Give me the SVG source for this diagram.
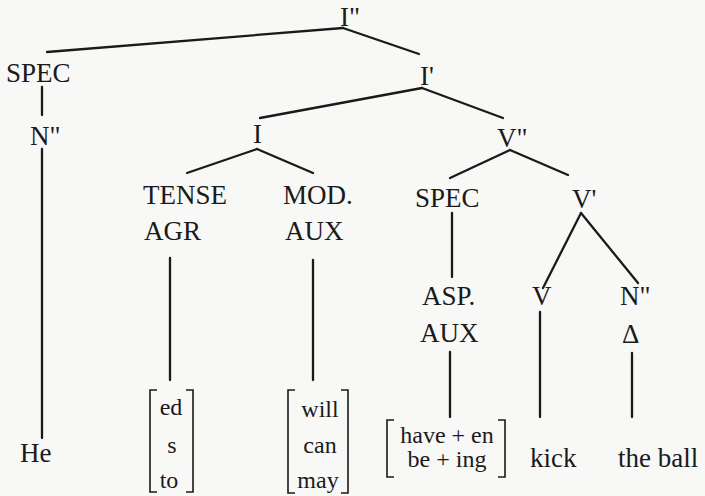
<svg xmlns="http://www.w3.org/2000/svg" width="705" height="496" viewBox="0 0 705 496">
<style>
.t{font-family:"Liberation Serif","Times New Roman",serif;font-size:27px;fill:#1a1a1a}
.s{font-family:"Liberation Serif","Times New Roman",serif;font-size:24px;fill:#1a1a1a;text-anchor:middle}
.e{stroke:#1a1a1a;stroke-width:2.3;fill:none;stroke-linecap:round}
.b{stroke:#1a1a1a;stroke-width:1.6;fill:none}
</style>
<rect width="705" height="496" fill="#f8f8f6"/>
<g id="connectors">
<line class="e" x1="343" y1="28" x2="47" y2="52"/>
<line class="e" x1="343" y1="28" x2="419" y2="54"/>
<line class="e" x1="42" y1="87" x2="42" y2="115"/>
<line class="e" x1="42" y1="149" x2="42" y2="438"/>
<line class="e" x1="422" y1="88" x2="260" y2="118"/>
<line class="e" x1="422" y1="88" x2="503" y2="118"/>
<line class="e" x1="257" y1="149" x2="187" y2="173"/>
<line class="e" x1="257" y1="149" x2="313" y2="173"/>
<line class="e" x1="170" y1="258" x2="170" y2="380"/>
<line class="e" x1="313" y1="260" x2="313" y2="380"/>
<line class="e" x1="510" y1="150" x2="450" y2="178"/>
<line class="e" x1="510" y1="150" x2="568" y2="175"/>
<line class="e" x1="452" y1="213" x2="452" y2="277"/>
<line class="e" x1="450" y1="352" x2="450" y2="417"/>
<line class="e" x1="581" y1="213" x2="543" y2="288"/>
<line class="e" x1="581" y1="213" x2="638" y2="283"/>
<line class="e" x1="540" y1="312" x2="540" y2="417"/>
<line class="e" x1="632" y1="353" x2="632" y2="417"/>
</g>
<g id="n-Ibar2"><text class="t" x="340" y="26">I"</text></g>
<g id="n-SPEC1"><text class="t" x="6" y="82">SPEC</text></g>
<g id="n-N1"><text class="t" x="30" y="145">N"</text></g>
<g id="n-He"><text class="t" x="20" y="462">He</text></g>
<g id="n-Ibar1"><text class="t" x="420" y="85">I'</text></g>
<g id="n-I"><text class="t" x="253" y="143">I</text></g>
<g id="n-TENSE"><text class="t" x="143" y="204">TENSE</text><text class="t" x="144" y="240">AGR</text></g>
<g id="n-MOD"><text class="t" x="283" y="204">MOD.</text><text class="t" x="285" y="240">AUX</text></g>
<g id="n-tense-list">
<path class="b" d="M157,390 H150 V492 H157 M186,390 H193 V492 H186"/>
<text class="s" x="171" y="415">ed</text><text class="s" x="172" y="453">s</text><text class="s" x="169" y="488">to</text>
</g>
<g id="n-mod-list">
<path class="b" d="M295,390 H288 V493 H295 M341,390 H348 V493 H341"/>
<text class="s" x="320" y="417">will</text><text class="s" x="320" y="453">can</text><text class="s" x="318" y="488">may</text>
</g>
<g id="n-V2"><text class="t" x="497" y="147">V"</text></g>
<g id="n-SPEC2"><text class="t" x="415" y="207">SPEC</text></g>
<g id="n-V1"><text class="t" x="572" y="208">V'</text></g>
<g id="n-ASP"><text class="t" x="422" y="305">ASP.</text><text class="t" x="420" y="342">AUX</text></g>
<g id="n-asp-list">
<path class="b" d="M394,420 H387 V477 H394 M498,420 H505 V477 H498"/>
<text class="s" x="447" y="443">have + en</text><text class="s" x="447" y="467">be + ing</text>
</g>
<g id="n-V"><text class="t" x="532" y="305">V</text></g>
<g id="n-N2"><text class="t" x="620" y="305">N"</text><text class="t" x="622" y="343">Δ</text></g>
<g id="n-kick"><text class="t" x="530" y="467">kick</text></g>
<g id="n-ball"><text class="t" x="618" y="467">the ball</text></g>
</svg>
